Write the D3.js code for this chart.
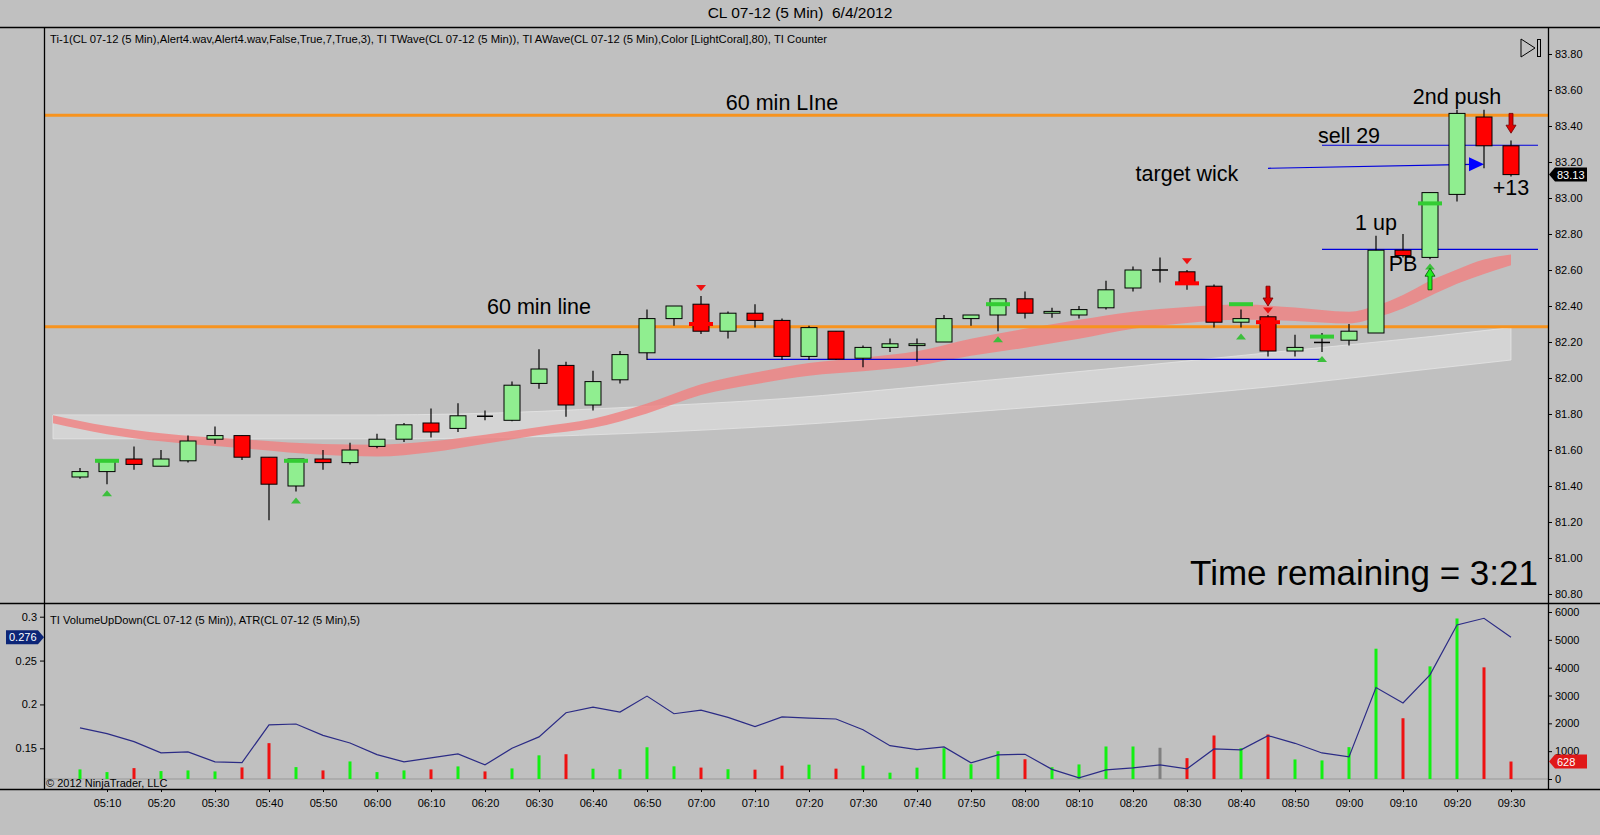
<!DOCTYPE html>
<html>
<head>
<meta charset="utf-8">
<script src="https://cdnjs.cloudflare.com/ajax/libs/d3/7.8.5/d3.min.js"></script>
<style>
  body { margin: 0; background: #c0c0c0; }
  svg { display: block; font-family: "Liberation Sans", Arial, sans-serif; }
</style>
</head>
<body>
<svg id="chart" width="1600" height="835"></svg>
<script>
// 5 min bars, 05:05 .. 09:30
const barOpen  = [81.45,81.48,81.55,81.51,81.54,81.66,81.68,81.56,81.40,81.55,81.53,81.62,81.66,81.75,81.72,81.79,81.765,81.97,82.07,81.85,81.99,82.14,82.33,82.41,82.26,82.36,82.32,82.12,82.26,82.11,82.17,82.18,82.20,82.33,82.35,82.44,82.36,82.35,82.39,82.50,82.60,82.59,82.51,82.31,82.34,82.15,82.195,82.21,82.25,82.71,82.67,83.02,83.45,83.29];
const barHigh  = [81.50,81.55,81.62,81.60,81.68,81.73,81.68,81.56,81.55,81.60,81.64,81.69,81.75,81.83,81.86,81.82,81.98,82.16,82.09,82.04,82.15,82.38,82.40,82.455,82.37,82.41,82.33,82.29,82.26,82.18,82.22,82.22,82.35,82.35,82.44,82.48,82.39,82.40,82.54,82.62,82.67,82.60,82.52,82.38,82.35,82.24,82.25,82.30,82.79,82.80,83.03,83.49,83.49,83.32];
const barLow   = [81.44,81.41,81.49,81.51,81.53,81.635,81.545,81.21,81.37,81.49,81.52,81.61,81.645,81.67,81.70,81.765,81.76,81.94,81.785,81.82,81.97,82.10,82.29,82.245,82.22,82.28,82.10,82.10,82.10,82.06,82.145,82.09,82.20,82.29,82.26,82.33,82.335,82.33,82.38,82.48,82.53,82.49,82.28,82.28,82.12,82.12,82.145,82.18,82.25,82.67,82.66,82.98,83.165,83.12];
const barClose = [81.48,81.54,81.52,81.55,81.65,81.68,81.56,81.41,81.55,81.53,81.60,81.66,81.74,81.70,81.79,81.785,81.96,82.05,81.85,81.98,82.13,82.33,82.40,82.26,82.36,82.32,82.12,82.28,82.105,82.17,82.19,82.19,82.33,82.35,82.44,82.36,82.37,82.38,82.49,82.60,82.60,82.53,82.31,82.33,82.15,82.17,82.20,82.26,82.71,82.68,83.03,83.47,83.29,83.13];

const volume = [344,248,391,284,308,272,416,1288,427,308,631,248,308,344,452,272,380,850,890,370,350,1140,455,410,350,335,480,515,372,480,228,408,1105,530,998,710,422,523,1168,1168,1122,749,1563,1108,1599,703,667,1144,4681,2183,4047,5767,4011,628];
const atr = [0.1732,0.1667,0.1576,0.1448,0.1459,0.1345,0.1337,0.1766,0.1777,0.1648,0.1561,0.1428,0.1345,0.139,0.1436,0.1311,0.15,0.163,0.1906,0.197,0.1913,0.2095,0.1894,0.1936,0.1852,0.1747,0.1857,0.1845,0.1834,0.1712,0.153,0.1485,0.1516,0.1334,0.1425,0.1432,0.126,0.1164,0.1254,0.1277,0.1311,0.1266,0.1493,0.1482,0.1644,0.1557,0.1447,0.1402,0.2193,0.2016,0.2337,0.2906,0.2982,0.2766];

// TI AWave (light band) and TI TWave (LightCoral band)
const awaveTimes = ["05:00","05:30","06:00","06:15","06:45","07:15","07:45","08:15","08:45","09:15","09:30"];
const awaveHigh  = [81.795,81.795,81.795,81.80,81.835,81.885,81.965,82.05,82.14,82.23,82.28];
const awaveLow   = [81.662,81.662,81.662,81.665,81.69,81.735,81.80,81.87,81.95,82.05,82.10];

const twaveTimes = ["05:00","05:10","05:20","05:35","05:50","06:00","06:10","06:20","06:30","06:40","06:50","07:00","07:10","07:20","07:30","07:40","07:50","08:00","08:10","08:20","08:30","08:40","08:50","09:00","09:05","09:10","09:15","09:20","09:25","09:30"];
const twaveHigh  = [81.793,81.733,81.693,81.66,81.633,81.629,81.648,81.685,81.728,81.773,81.858,81.965,82.03,82.083,82.113,82.148,82.218,82.273,82.323,82.368,82.395,82.408,82.392,82.368,82.401,82.461,82.540,82.603,82.658,82.686];
const twaveLow   = [81.748,81.688,81.648,81.61,81.573,81.564,81.588,81.635,81.683,81.723,81.803,81.905,81.965,82.013,82.038,82.068,82.123,82.168,82.218,82.273,82.305,82.323,82.317,82.303,82.336,82.386,82.455,82.523,82.578,82.626];

// drawn objects
const orangeLevels = [83.46, 82.285];
const blueLevels = [["06:50","08:55",82.104],["08:55","09:35",83.293],["08:55","09:35",82.715]];
const targetArrow = [["08:45",83.165],["09:25",83.187]];

// TI Counter / Ti-1 signals
const greenDashes = [["05:10",81.54],["05:45",81.54],["07:55",82.41],["08:40",82.41],["08:55",82.23],["09:15",82.97]];
const redDashes = [["07:00",82.30],["08:30",82.526],["08:45",82.31]];
const greenTriangles = [["05:10",81.36],["05:45",81.32],["07:55",82.215],["08:40",82.23],["08:55",82.105],["09:15",82.62]];
const redTriangles = [["07:00",82.50],["08:30",82.648],["08:45",82.375]];
const redArrows = [["08:45",82.51,82.40],["09:30",83.47,83.36]];
const greenArrows = [["09:15",82.49,82.61]];

const notes = [
  ["60 min LIne","07:15",83.489],
  ["60 min line","06:30",82.356],
  ["2nd push","09:20",83.522],
  ["sell 29","09:00",83.306],
  ["target wick","08:30",83.094],
  ["1 up","09:05",82.822],
  ["PB","09:10",82.594],
  ["+13","09:30",83.017]
];

const priceTicks = d3.range(0, 16).map(i => 80.8 + i * 0.2);
const volumeTicks = [0,1000,2000,3000,4000,5000,6000];
const atrTicks = [0.15,0.2,0.25,0.3];

const svg = d3.select("#chart");
const width = +svg.attr("width");
const plotLeft = 44, axisX = 1548;
const mainTop = 27, split = 603, lowerBottom = 789;

const parseT = d3.timeParse("%H:%M");
const barTimes = d3.timeMinute.every(5).range(parseT("05:05"), parseT("09:35"));
const bars = barTimes.map((t, i) => ({ t, o: barOpen[i], h: barHigh[i], l: barLow[i], c: barClose[i], v: volume[i], a: atr[i] }));

const x = d3.scaleTime().domain([parseT("05:05"), parseT("09:30")]).range([80, 1511]);
const y = d3.scaleLinear().domain([80.8, 83.8]).range([594, 54]);
const yVol = d3.scaleLinear().domain([0, 6000]).range([779, 612]);
const yAtr = d3.scaleLinear().domain([0.15, 0.3]).range([748.3, 616.7]);
const xt = s => x(parseT(s));

svg.append("rect").attr("width", width).attr("height", 835).attr("fill", "#c0c0c0");

const defs = svg.append("defs");
defs.append("clipPath").attr("id", "clipMain").append("rect")
  .attr("x", plotLeft).attr("y", mainTop).attr("width", axisX - plotLeft).attr("height", split - mainTop);
defs.append("clipPath").attr("id", "clipLow").append("rect")
  .attr("x", plotLeft).attr("y", split).attr("width", axisX - plotLeft).attr("height", lowerBottom - split);

const main = svg.append("g").attr("clip-path", "url(#clipMain)");

function band(times, hi, lo) {
  return times.map((s, i) => ({ t: parseT(s), hi: hi[i], lo: lo[i] }));
}
const area = d3.area().x(d => x(d.t)).y0(d => y(d.lo)).y1(d => y(d.hi)).curve(d3.curveMonotoneX);

main.append("path").datum(band(awaveTimes, awaveHigh, awaveLow))
  .attr("d", area).attr("fill", "#ffffff").attr("fill-opacity", 0.32)
  .attr("stroke", "#e4e4e4").attr("stroke-width", 0.8);
main.append("path").datum(band(twaveTimes, twaveHigh, twaveLow))
  .attr("d", area).attr("fill", "lightcoral").attr("fill-opacity", 0.8);

main.selectAll("line.orange").data(orangeLevels).enter().append("line")
  .attr("x1", plotLeft).attr("x2", axisX)
  .attr("y1", d => y(d)).attr("y2", d => y(d))
  .attr("stroke", "#f7931e").attr("stroke-width", 3);

main.selectAll("line.blue").data(blueLevels).enter().append("line")
  .attr("x1", d => xt(d[0])).attr("x2", d => xt(d[1]))
  .attr("y1", d => y(d[2])).attr("y2", d => y(d[2]))
  .attr("stroke", "#0000dd").attr("stroke-width", 1.2);

// target wick arrow
{
  const [a, b] = targetArrow;
  const x1 = xt(a[0]), y1 = y(a[1]), x2 = xt(b[0]), y2 = y(b[1]);
  main.append("line").attr("x1", x1).attr("y1", y1).attr("x2", x2 - 12).attr("y2", y2)
    .attr("stroke", "#0000dd").attr("stroke-width", 1.2);
  main.append("path")
    .attr("d", `M${x2},${y2} L${x2 - 15},${y2 - 7} L${x2 - 15},${y2 + 7} Z`)
    .attr("fill", "#0000ff");
}

// candles
const candle = main.selectAll("g.candle").data(bars).enter().append("g");
candle.append("line")
  .attr("x1", d => x(d.t)).attr("x2", d => x(d.t))
  .attr("y1", d => y(d.h)).attr("y2", d => y(d.l))
  .attr("stroke", "#000").attr("stroke-width", 1.2);
candle.each(function (d) {
  const g = d3.select(this);
  const top = y(Math.max(d.o, d.c)), bot = y(Math.min(d.o, d.c));
  if (bot - top < 1.5) {
    g.append("line").attr("x1", x(d.t) - 8).attr("x2", x(d.t) + 8)
      .attr("y1", (top + bot) / 2).attr("y2", (top + bot) / 2)
      .attr("stroke", "#000").attr("stroke-width", 1.5);
  } else {
    g.append("rect").attr("x", x(d.t) - 8).attr("width", 16)
      .attr("y", top).attr("height", bot - top)
      .attr("fill", d.c >= d.o ? "#90ee90" : "#ff0000")
      .attr("stroke", "#000").attr("stroke-width", 1);
  }
});

// signals
main.selectAll("rect.gdash").data(greenDashes).enter().append("rect")
  .attr("x", d => xt(d[0]) - 12).attr("y", d => y(d[1]) - 2)
  .attr("width", 24).attr("height", 4).attr("fill", "#33cc33");
main.selectAll("rect.rdash").data(redDashes).enter().append("rect")
  .attr("x", d => xt(d[0]) - 12).attr("y", d => y(d[1]) - 2)
  .attr("width", 24).attr("height", 4).attr("fill", "#ff0000");
main.selectAll("path.gtri").data(greenTriangles).enter().append("path")
  .attr("d", d => { const cx = xt(d[0]), cy = y(d[1]); return `M${cx - 5},${cy + 3} L${cx + 5},${cy + 3} L${cx},${cy - 3} Z`; })
  .attr("fill", "#3cbf3c");
main.selectAll("path.rtri").data(redTriangles).enter().append("path")
  .attr("d", d => { const cx = xt(d[0]), cy = y(d[1]); return `M${cx - 5},${cy - 3} L${cx + 5},${cy - 3} L${cx},${cy + 3} Z`; })
  .attr("fill", "#ee1111");

function arrowPath(cx, yTail, yTip) {
  const s = yTip > yTail ? 1 : -1;
  const yNeck = yTip - s * 8;
  return `M${cx - 2},${yTail} L${cx + 2},${yTail} L${cx + 2},${yNeck} L${cx + 5},${yNeck} L${cx},${yTip} L${cx - 5},${yNeck} L${cx - 2},${yNeck} Z`;
}
main.selectAll("path.rarrow").data(redArrows).enter().append("path")
  .attr("d", d => arrowPath(xt(d[0]), y(d[1]), y(d[2])))
  .attr("fill", "#e00000").attr("stroke", "#700000").attr("stroke-width", 0.8);
main.selectAll("path.garrow").data(greenArrows).enter().append("path")
  .attr("d", d => arrowPath(xt(d[0]), y(d[1]), y(d[2])))
  .attr("fill", "#22ee22").attr("stroke", "#005500").attr("stroke-width", 0.8);

// notes
main.selectAll("text.note").data(notes).enter().append("text")
  .attr("x", d => xt(d[1])).attr("y", d => y(d[2]))
  .attr("text-anchor", "middle").attr("font-size", "21.5px").attr("fill", "#000")
  .text(d => d[0]);

main.append("text").attr("x", axisX - 10).attr("y", 585)
  .attr("text-anchor", "end").attr("font-size", "35px").attr("fill", "#000")
  .text("Time remaining = 3:21");

main.append("text").attr("x", 50).attr("y", 43).attr("font-size", "11px")
  .attr("textLength", 777).attr("lengthAdjust", "spacingAndGlyphs")
  .text("Ti-1(CL 07-12 (5 Min),Alert4.wav,Alert4.wav,False,True,7,True,3),  TI TWave(CL 07-12 (5 Min)),  TI AWave(CL 07-12 (5 Min),Color [LightCoral],80),  TI Counter");

// play-to-end icon
main.append("path").attr("d", "M1521,39 L1535,48 L1521,57 Z")
  .attr("fill", "none").attr("stroke", "#000").attr("stroke-width", 1);
main.append("rect").attr("x", 1537.5).attr("y", 39.5).attr("width", 3).attr("height", 17)
  .attr("fill", "none").attr("stroke", "#000").attr("stroke-width", 1);

// lower panel
const low = svg.append("g").attr("clip-path", "url(#clipLow)");
low.append("line").attr("x1", plotLeft).attr("x2", axisX)
  .attr("y1", yVol(0)).attr("y2", yVol(0)).attr("stroke", "#999").attr("stroke-width", 1);
low.selectAll("rect.vol").data(bars).enter().append("rect")
  .attr("x", d => x(d.t) - 1.5).attr("width", 3)
  .attr("y", d => yVol(d.v)).attr("height", d => yVol(0) - yVol(d.v))
  .attr("fill", d => d.c > d.o ? "#12f012" : d.c < d.o ? "#ee1111" : "#808080");
low.append("path").datum(bars)
  .attr("d", d3.line().x(d => x(d.t)).y(d => yAtr(d.a)))
  .attr("fill", "none").attr("stroke", "#2b2b85").attr("stroke-width", 1.2);
low.append("text").attr("x", 50).attr("y", 624).attr("font-size", "11px")
  .attr("textLength", 310).attr("lengthAdjust", "spacingAndGlyphs")
  .text("TI VolumeUpDown(CL 07-12 (5 Min)), ATR(CL 07-12 (5 Min),5)");
low.append("text").attr("x", 46).attr("y", 787).attr("font-size", "11px")
  .text("© 2012 NinjaTrader, LLC");

// axes
function styleAxis(g) {
  g.select(".domain").remove();
  g.selectAll("text").attr("font-size", "11px").attr("fill", "#000")
    .attr("font-family", "'Liberation Sans', Arial, sans-serif");
  g.selectAll("line").attr("stroke", "#000");
}
svg.append("g").attr("transform", `translate(${axisX},0)`)
  .call(d3.axisRight(y).tickValues(priceTicks).tickFormat(d3.format(".2f")).tickSize(4).tickPadding(3))
  .call(styleAxis);
svg.append("g").attr("transform", `translate(${axisX},0)`)
  .call(d3.axisRight(yVol).tickValues(volumeTicks).tickFormat(d3.format("d")).tickSize(4).tickPadding(3))
  .call(styleAxis);
svg.append("g").attr("transform", `translate(${plotLeft},0)`)
  .call(d3.axisLeft(yAtr).tickValues(atrTicks).tickFormat(d => String(d)).tickSize(4).tickPadding(3))
  .call(styleAxis);
svg.append("g").attr("transform", `translate(0,${lowerBottom})`)
  .call(d3.axisBottom(x).ticks(d3.timeMinute.every(10)).tickFormat(d3.timeFormat("%H:%M")).tickSize(3).tickPadding(7))
  .call(styleAxis);

// frame
[mainTop, split, lowerBottom].forEach(v => svg.append("line")
  .attr("x1", 0).attr("x2", width).attr("y1", v + 0.5).attr("y2", v + 0.5)
  .attr("stroke", "#000").attr("stroke-width", 1.3));
[plotLeft, axisX].forEach(v => svg.append("line")
  .attr("x1", v + 0.5).attr("x2", v + 0.5).attr("y1", mainTop).attr("y2", lowerBottom)
  .attr("stroke", "#000").attr("stroke-width", 1.3));

// last value flags
function flag(px, py, text, fill, dir) {
  const w = 38, h = 14, p = 6;
  const d = dir > 0
    ? `M${px},${py} L${px + p},${py - h / 2} L${px + w},${py - h / 2} L${px + w},${py + h / 2} L${px + p},${py + h / 2} Z`
    : `M${px},${py} L${px - p},${py - h / 2} L${px - w},${py - h / 2} L${px - w},${py + h / 2} L${px - p},${py + h / 2} Z`;
  svg.append("path").attr("d", d).attr("fill", fill);
  svg.append("text").attr("x", dir > 0 ? px + p + 2 : px - w + 3).attr("y", py + 4)
    .attr("font-size", "11px").attr("fill", "#fff").text(text);
}
const last = bars[bars.length - 1];
flag(axisX + 1, y(last.c), d3.format(".2f")(last.c), "#000", 1);
flag(axisX + 1, yVol(last.v), String(last.v), "#e01818", 1);
flag(plotLeft, yAtr(last.a), d3.format(".3f")(Math.floor(last.a * 1000) / 1000), "#0c2577", -1);

svg.append("text").attr("x", width / 2).attr("y", 18).attr("text-anchor", "middle")
  .attr("font-size", "15.5px").style("white-space", "pre")
  .text("CL 07-12 (5 Min)  6/4/2012");
</script>
</body>
</html>
